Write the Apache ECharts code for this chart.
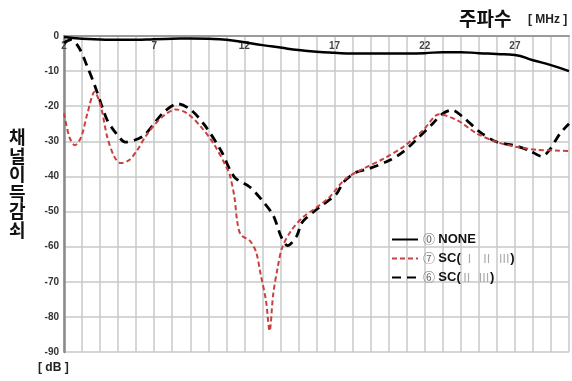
<!DOCTYPE html>
<html>
<head>
<meta charset="utf-8">
<script src="https://cdn.jsdelivr.net/npm/echarts@6/dist/echarts.min.js"></script>
<style>
html,body{margin:0;padding:0;background:#fff;}
#c{width:572px;height:381px;}
</style>
</head>
<body>
<div id="c"></div>
<script>
// Frequencies (MHz) and attenuation values (dB)
const noneFreq = [2,3,4,5,6,7,8,9,10,11,12,13,14,15,16,17,18,19,20,21,22,23,24,25,26,27,28,29,30];
const noneVals = [-0.3,-0.8,-1,-1.1,-1.1,-0.9,-0.8,-0.7,-0.8,-1.1,-1.8,-2.6,-3.3,-4,-4.5,-4.8,-5,-5,-5,-5,-4.9,-4.6,-4.6,-4.9,-5.1,-5.4,-6.9,-8.3,-10];

const sc123Freq = [2,2.3,2.6,2.95,3.3,3.7,4.05,4.4,4.8,5.15,5.6,6.05,6.5,7,7.55,8.2,8.85,9.6,10.3,11,11.2,11.45,11.6,11.8,12.3,12.65,12.9,13.2,13.4,13.6,13.85,14.1,14.6,15.25,15.9,16.7,17.6,18.6,19.7,20.8,21.9,22.8,23.8,24.9,26,27.1,28.2,29.3,30];
const sc123Vals = [-22,-28.8,-31.1,-28.8,-22,-15.9,-20.2,-28.8,-34.5,-36.2,-35.4,-32.6,-28.8,-25.4,-22.6,-20.9,-22.1,-25.9,-30.7,-37.3,-39.7,-45.9,-52.6,-56.6,-58.3,-61.5,-67.8,-75.4,-84,-73.5,-65.9,-60.2,-55.4,-51.6,-49.2,-46,-40.7,-37.8,-35,-31.6,-26.9,-22.3,-24,-27.8,-30.2,-31.6,-32.4,-32.6,-32.8];

const sc23Freq = [2,2.4,2.85,3.3,3.7,4.05,4.4,4.9,5.4,5.9,6.45,7,7.55,8.3,9.05,9.8,10.7,11.45,12.3,13,13.6,14.05,14.4,14.9,15.15,15.4,16.1,17.1,17.5,18.2,18.9,20.05,20.8,21.5,22.45,23,23.5,24.1,25.05,26,26.9,27.8,28.5,28.9,29.5,30];
const sc23Vals = [-2,-1,-3.5,-8.8,-14,-19.2,-24,-27.8,-30.2,-29.7,-28.3,-24.9,-21.6,-19.3,-21.1,-25.4,-32.6,-40.2,-43,-46.9,-51.1,-57.3,-59.7,-57,-53.5,-52,-49,-45,-41.6,-38.8,-37.8,-35.4,-33,-29.7,-24.9,-22.1,-21.1,-23,-27.3,-30.2,-31.1,-32.6,-34.3,-32.6,-27.8,-25];

const xLabelTicks = [2,7,12,17,22,27];
const seriesNames = ['NONE','SC123','SC23'];
const legendLabels = {
  NONE: '{c|⓪} {b|NONE}',
  SC123: '{c|⑦} {b|SC(}{r| Ⅰ  Ⅱ  Ⅲ}{b|)}',
  SC23: '{c|⑥} {b|SC(}{r|Ⅱ  Ⅲ}{b|)}'
};

function pairs(xs, ys){ return xs.map((x,i)=>[x, ys[i]]); }

const chart = echarts.init(document.getElementById('c'), null, {renderer:'canvas'});
const gridColor = '#c9c9c9';
chart.setOption({
  animation:false,
  backgroundColor:'#ffffff',
  grid:{left:64, right:2, top:36, bottom:29, containLabel:false},
  xAxis:{
    type:'value', position:'top', min:2, max:30, interval:1,
    axisLine:{show:true, lineStyle:{color:'#9a9a9a', width:2}},
    axisTick:{show:false},
    axisLabel:{inside:true, margin:5, fontSize:10, fontWeight:'bold', color:'#444', fontFamily:'Liberation Sans',
      formatter:function(v){ return xLabelTicks.indexOf(v) >= 0 ? String(v) : ''; }},
    splitLine:{show:true, lineStyle:{color:gridColor, width:1.5}}
  },
  yAxis:{
    type:'value', min:-90, max:0, interval:10,
    axisLine:{show:true, lineStyle:{color:'#8a8a8a', width:2.5}},
    axisTick:{show:false},
    axisLabel:{margin:5, fontSize:10, fontWeight:'bold', color:'#333', fontFamily:'Liberation Sans'},
    splitLine:{show:true, lineStyle:{color:gridColor, width:1.5}}
  },
  legend:{
    orient:'vertical', left:386, top:228, itemGap:6, itemWidth:26, itemHeight:10,
    data:seriesNames,
    itemStyle:{opacity:0, borderWidth:0},
    formatter:function(n){ return legendLabels[n]; },
    textStyle:{
      rich:{
        c:{fontSize:12, color:'#666', fontFamily:'Noto Sans CJK KR'},
        b:{fontSize:13, fontWeight:'bold', color:'#111', fontFamily:'Liberation Sans'},
        r:{fontSize:12, color:'#aaa', fontFamily:'Noto Sans CJK KR'}
      }
    }
  },
  series:[
    {name:'NONE', type:'line', data:pairs(noneFreq, noneVals), smooth:0.5, showSymbol:false, symbol:'none',
     lineStyle:{color:'#000', width:2.5, type:'solid'}, itemStyle:{color:'#000'}, z:3},
    {name:'SC123', type:'line', data:pairs(sc123Freq, sc123Vals), smooth:0.3, showSymbol:false, symbol:'none',
     lineStyle:{color:'#c9403f', width:2, type:[5,3]}, itemStyle:{color:'#c9403f'}, z:4},
    {name:'SC23', type:'line', data:pairs(sc23Freq, sc23Vals), smooth:0.3, showSymbol:false, symbol:'none',
     lineStyle:{color:'#000', width:2.8, type:[9,6]}, itemStyle:{color:'#000'}, z:2}
  ],
  graphic:[
    {type:'text', left:459, top:9, style:{text:'주파수', fontSize:19, fontWeight:'bold', fill:'#111', fontFamily:'Noto Sans CJK KR'}},
    {type:'text', left:528, top:14, style:{text:'[ MHz ]', fontSize:12, fontWeight:'bold', fill:'#222', fontFamily:'Liberation Sans'}},
    {type:'text', left:9, top:128, style:{text:'채\n널\n이\n득\n감\n쇠', fontSize:18, lineHeight:18.5, fontWeight:'bold', fill:'#111', fontFamily:'Noto Sans CJK KR'}},
    {type:'text', left:38, top:362, style:{text:'[ dB ]', fontSize:12, fontWeight:'bold', fill:'#222', fontFamily:'Liberation Sans'}}
  ]
});
</script>
</body>
</html>
